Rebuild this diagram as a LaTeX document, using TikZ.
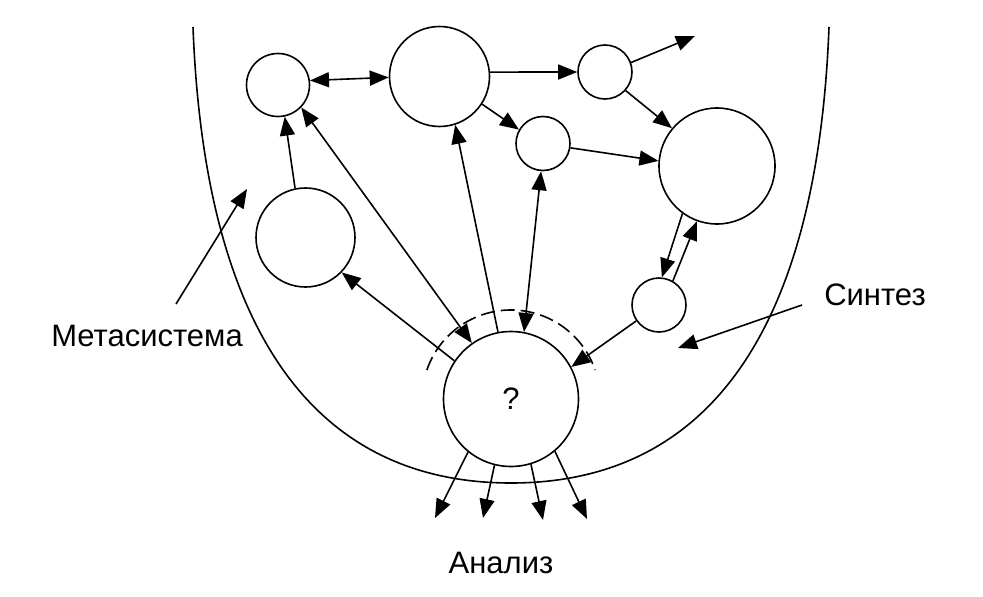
\documentclass[tikz,border=0pt]{standalone}
\usepackage{fontspec}
\setmainfont{Liberation Sans}
\usetikzlibrary{arrows.meta}
\tikzset{
  circ/.style={circle, draw, line width=1.6pt, inner sep=0pt, fill=white},
  conn/.style={line width=1.6pt, -{Triangle[length=19pt,width=15pt]}},
  bconn/.style={line width=1.6pt, {Triangle[length=19pt,width=15pt]}-{Triangle[length=19pt,width=15pt]}},
  lbl/.style={font=\fontsize{31}{36}\selectfont, inner sep=0pt}
}
\begin{document}
\begin{tikzpicture}[x=1pt, y=-1pt]
\useasboundingbox (0,0) rectangle (983,597);
% U-shaped boundary
\draw[line width=1.6pt] (193,27) .. controls (205,340) and (320,483) .. (511,483)
  .. controls (702,483) and (817,340) .. (829,27);
% nodes
\node[circ, minimum size=63pt]  (A) at (278,85) {};
\node[circ, minimum size=100pt] (B) at (439.5,76.5) {};
\node[circ, minimum size=54pt]  (C) at (605,72) {};
\node[circ, minimum size=54pt]  (D) at (543,143.5) {};
\node[circ, minimum size=116pt] (E) at (717,166) {};
\node[circ, minimum size=99pt]  (F) at (305.5,237.5) {};
\node[circ, minimum size=54pt]  (G) at (659,305) {};
\node[circ, minimum size=135pt, lbl] (Q) at (511,399) {?};
% dashed arc
\draw[line width=1.6pt, dash pattern=on 14pt off 6pt] (Q.center) ++(-161:89) arc[start angle=-161, end angle=-19, radius=89];
% labels
\node[lbl] (meta) at (147,336) {Метасистема};
\node[lbl] (sint) at (875,295) {Синтез};
\node[lbl] (anal) at (501,563) {Анализ};
% free ends
\coordinate (c1) at (695,36);
\coordinate (m0) at (176,304);
\coordinate (m1) at (247,189);
\coordinate (s0) at (802,305);
\coordinate (s1) at (678,348);
\coordinate (b1) at (435,518);
\coordinate (b2) at (483,518);
\coordinate (b3) at (543,520);
\coordinate (b4) at (587,519);
% connectors
\draw[bconn] (A.8) -- (B.181);
\draw[conn] (B.5) -- (C.180);
\draw[conn] (C.20) -- (c1);
\draw[conn] (C.-42) -- (E.140);
\draw[conn] (B.-33) -- (D.150);
\draw[conn] (D.-9) -- (E.175);
\draw[conn] (F.102) -- (A.-78);
\draw[bconn] (A.-44) -- (Q.125);
\draw[conn] (Q.101) -- (B.-72);
\draw[bconn] (Q.79) -- (D.-94);
\draw[conn] (Q.146) -- (F.-44);
\draw[conn] (G.215) -- (Q.28);
\draw[conn] (E.234) -- (G.84);
\draw[conn] (G.60) -- (E.250);
\draw[conn] (Q.-129) -- (b1);
\draw[conn] (Q.-104) -- (b2);
\draw[conn] (Q.-73) -- (b3);
\draw[conn] (Q.-50) -- (b4);
\draw[conn] (m0) -- (m1);
\draw[conn] (s0) -- (s1);
\end{tikzpicture}
\end{document}
